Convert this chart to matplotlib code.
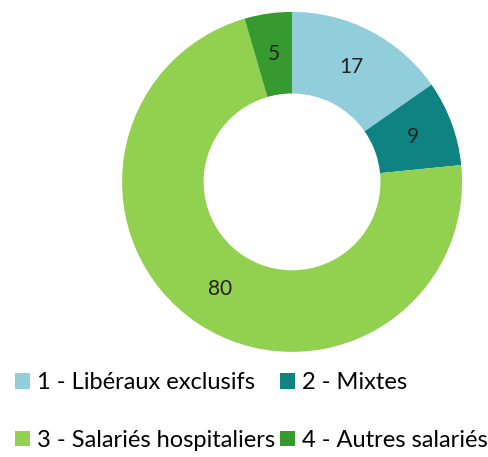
import matplotlib

matplotlib.use("Agg")
import matplotlib.pyplot as plt
from matplotlib.patches import Patch

plt.rcParams["font.family"] = ["Lato", "DejaVu Sans"]

# données
categories = ["1 - Libéraux exclusifs", "2 - Mixtes", "3 - Salariés hospitaliers", "4 - Autres salariés"]
values = [17, 9, 80, 5]
colors = ["#92CDDC", "#0F8282", "#92D050", "#379A30"]

fig = plt.figure(figsize=(4.88, 4.57), dpi=100)
ax = fig.add_axes([0.25, 0.23, 0.697, 0.744])

wedges, texts = ax.pie(values, colors=colors, startangle=90, counterclock=False,
                       labels=[str(v) for v in values], labeldistance=0.76,
                       wedgeprops={"width": 0.48, "linewidth": 0},
                       textprops={"fontsize": 15, "color": "#222222", "ha": "center", "va": "center"})
ax.set_xlim(-1, 1)
ax.set_ylim(-1, 1)
ax.set_aspect("equal")

handles = [Patch(facecolor=c, edgecolor="none") for c in colors]
# ordre par lignes : 1, 2 / 3, 4
order = [0, 2, 1, 3]
fig.legend([handles[i] for i in order], [categories[i] for i in order],
           loc="lower left", bbox_to_anchor=(0.006, -0.012), ncol=2, frameon=False,
           fontsize=17, handlelength=0.65, handleheight=0.65, handletextpad=0.3,
           columnspacing=0.2, labelspacing=1.55, borderaxespad=0.2, borderpad=0.3)

fig.savefig("out.png", dpi=100)
plt.close(fig)
